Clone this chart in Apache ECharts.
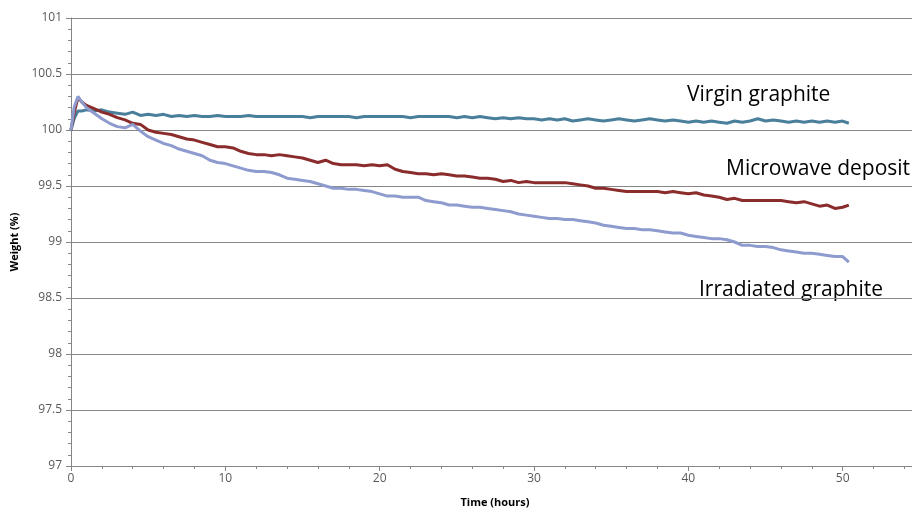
<!DOCTYPE html>
<html>
<head>
<meta charset="utf-8">
<script src="https://cdn.jsdelivr.net/npm/echarts@6/dist/echarts.min.js"></script>
<style>
  html, body { margin: 0; padding: 0; background: #fff; }
  #chart { width: 912px; height: 509px; }
</style>
</head>
<body>
<div id="chart"></div>
<script>
// time in hours
const times = [0, 0.2, 0.45, 0.7, 1, 1.5, 2, 2.5, 3, 3.5, 4, 4.5, 5, 5.5, 6, 6.5, 7, 7.5, 8, 8.5, 9, 9.5,
  10, 10.5, 11, 11.5, 12, 12.5, 13, 13.5, 14, 14.5, 15, 15.5, 16, 16.5, 17, 17.5, 18, 18.5, 19, 19.5,
  20, 20.5, 21, 21.5, 22, 22.5, 23, 23.5, 24, 24.5, 25, 25.5, 26, 26.5, 27, 27.5, 28, 28.5, 29, 29.5,
  30, 30.5, 31, 31.5, 32, 32.5, 33, 33.5, 34, 34.5, 35, 35.5, 36, 36.5, 37, 37.5, 38, 38.5, 39, 39.5,
  40, 40.5, 41, 41.5, 42, 42.5, 43, 43.5, 44, 44.5, 45, 45.5, 46, 46.5, 47, 47.5, 48, 48.5, 49, 49.5,
  50, 50.4];

const virginGraphite = [100.00, 100.10, 100.17, 100.17, 100.18, 100.17, 100.18, 100.16, 100.15, 100.14, 100.16, 100.13, 100.14, 100.13, 100.14, 100.12, 100.13, 100.12, 100.13, 100.12, 100.12, 100.13,
  100.12, 100.12, 100.12, 100.13, 100.12, 100.12, 100.12, 100.12, 100.12, 100.12, 100.12, 100.11, 100.12, 100.12, 100.12, 100.12, 100.12, 100.11, 100.12, 100.12,
  100.12, 100.12, 100.12, 100.12, 100.11, 100.12, 100.12, 100.12, 100.12, 100.12, 100.11, 100.12, 100.11, 100.12, 100.11, 100.10, 100.11, 100.10, 100.11, 100.10,
  100.10, 100.09, 100.10, 100.09, 100.10, 100.08, 100.09, 100.10, 100.09, 100.08, 100.09, 100.10, 100.09, 100.08, 100.09, 100.10, 100.09, 100.08, 100.09, 100.08,
  100.07, 100.08, 100.07, 100.08, 100.07, 100.06, 100.08, 100.07, 100.08, 100.10, 100.08, 100.09, 100.08, 100.07, 100.08, 100.07, 100.08, 100.07, 100.08, 100.07,
  100.08, 100.06];

const microwaveDeposit = [100.00, 100.15, 100.29, 100.25, 100.22, 100.19, 100.16, 100.14, 100.11, 100.09, 100.06, 100.05, 100.00, 99.98, 99.97, 99.96, 99.94, 99.92, 99.91, 99.89, 99.87, 99.85,
  99.85, 99.84, 99.81, 99.79, 99.78, 99.78, 99.77, 99.78, 99.77, 99.76, 99.75, 99.73, 99.71, 99.73, 99.70, 99.69, 99.69, 99.69, 99.68, 99.69,
  99.68, 99.69, 99.65, 99.63, 99.62, 99.61, 99.61, 99.60, 99.61, 99.60, 99.59, 99.59, 99.58, 99.57, 99.57, 99.56, 99.54, 99.55, 99.53, 99.54,
  99.53, 99.53, 99.53, 99.53, 99.53, 99.52, 99.51, 99.50, 99.48, 99.48, 99.47, 99.46, 99.45, 99.45, 99.45, 99.45, 99.45, 99.44, 99.45, 99.44,
  99.43, 99.44, 99.42, 99.41, 99.40, 99.38, 99.39, 99.37, 99.37, 99.37, 99.37, 99.37, 99.37, 99.36, 99.35, 99.36, 99.34, 99.32, 99.33, 99.30,
  99.31, 99.33];

const irradiatedGraphite = [100.00, 100.20, 100.30, 100.25, 100.20, 100.15, 100.10, 100.06, 100.03, 100.02, 100.05, 99.99, 99.94, 99.91, 99.88, 99.86, 99.83, 99.81, 99.79, 99.77, 99.73, 99.71,
  99.70, 99.68, 99.66, 99.64, 99.63, 99.63, 99.62, 99.60, 99.57, 99.56, 99.55, 99.54, 99.52, 99.50, 99.48, 99.48, 99.47, 99.47, 99.46, 99.45,
  99.43, 99.41, 99.41, 99.40, 99.40, 99.40, 99.37, 99.36, 99.35, 99.33, 99.33, 99.32, 99.31, 99.31, 99.30, 99.29, 99.28, 99.27, 99.25, 99.24,
  99.23, 99.22, 99.21, 99.21, 99.20, 99.20, 99.19, 99.18, 99.17, 99.15, 99.14, 99.13, 99.12, 99.12, 99.11, 99.11, 99.10, 99.09, 99.08, 99.08,
  99.06, 99.05, 99.04, 99.03, 99.03, 99.02, 99.00, 98.97, 98.97, 98.96, 98.96, 98.95, 98.93, 98.92, 98.91, 98.90, 98.90, 98.89, 98.88, 98.87,
  98.87, 98.82];

const seriesNames = ['Virgin graphite', 'Microwave deposit', 'Irradiated graphite'];
const seriesColors = ['#4a7f9b', '#8b2c2c', '#8e9bce'];

const pair = (vals) => times.map((t, i) => [t, vals[i]]);

const chart = echarts.init(document.getElementById('chart'));

const axisGrey = '#868686';
const labelColor = '#595959';

chart.setOption({
  animation: false,
  backgroundColor: '#fff',
  // the original picture is cropped on the right, so the plot runs past the canvas
  grid: { left: 71, right: -85, top: 18, bottom: 43, outerBoundsMode: 'none', containLabel: false },
  xAxis: {
    type: 'value',
    min: 0,
    max: 60,
    interval: 10,
    name: 'Time (hours)',
    nameLocation: 'middle',
    nameGap: 31,
    // pad on the right so the title sits at the centre of the visible part
    nameTextStyle: { fontFamily: 'Open Sans', fontWeight: 'bold', fontSize: 11, color: '#000', padding: [0, 78, 0, 0] },
    axisLine: { lineStyle: { color: axisGrey, width: 1 } },
    axisTick: { length: 5, lineStyle: { color: axisGrey } },
    minorTick: { show: true, splitNumber: 5, length: 3, lineStyle: { color: axisGrey } },
    axisLabel: { fontFamily: 'Open Sans', fontSize: 12, color: labelColor, margin: 7 },
    splitLine: { show: false }
  },
  yAxis: {
    type: 'value',
    min: 97,
    max: 101,
    interval: 0.5,
    name: 'Weight (%)',
    nameLocation: 'middle',
    nameGap: 47,
    nameTextStyle: { fontFamily: 'Open Sans', fontWeight: 'bold', fontSize: 11, color: '#000' },
    axisLine: { show: true, lineStyle: { color: axisGrey, width: 1 } },
    axisTick: { show: true, length: 5, lineStyle: { color: axisGrey } },
    minorTick: { show: true, splitNumber: 5, length: 3, lineStyle: { color: axisGrey } },
    axisLabel: { fontFamily: 'Open Sans', fontSize: 12, color: labelColor, margin: 9 },
    splitLine: { show: true, lineStyle: { color: axisGrey, width: 1 } }
  },
  series: [virginGraphite, microwaveDeposit, irradiatedGraphite].map((vals, i) => ({
    name: seriesNames[i],
    type: 'line',
    data: pair(vals),
    showSymbol: false,
    smooth: false,
    lineStyle: { color: seriesColors[i], width: 3 },
    itemStyle: { color: seriesColors[i] }
  })),
  graphic: [
    { type: 'text', left: 687, top: 85, style: { text: 'Virgin graphite', fontFamily: 'Open Sans', fontSize: 21, fill: '#000' } },
    { type: 'text', left: 726, top: 159, style: { text: 'Microwave deposit', fontFamily: 'Open Sans', fontSize: 21, fill: '#000' } },
    { type: 'text', left: 699, top: 280, style: { text: 'Irradiated graphite', fontFamily: 'Open Sans', fontSize: 21, fill: '#000' } }
  ]
});
</script>
</body>
</html>
